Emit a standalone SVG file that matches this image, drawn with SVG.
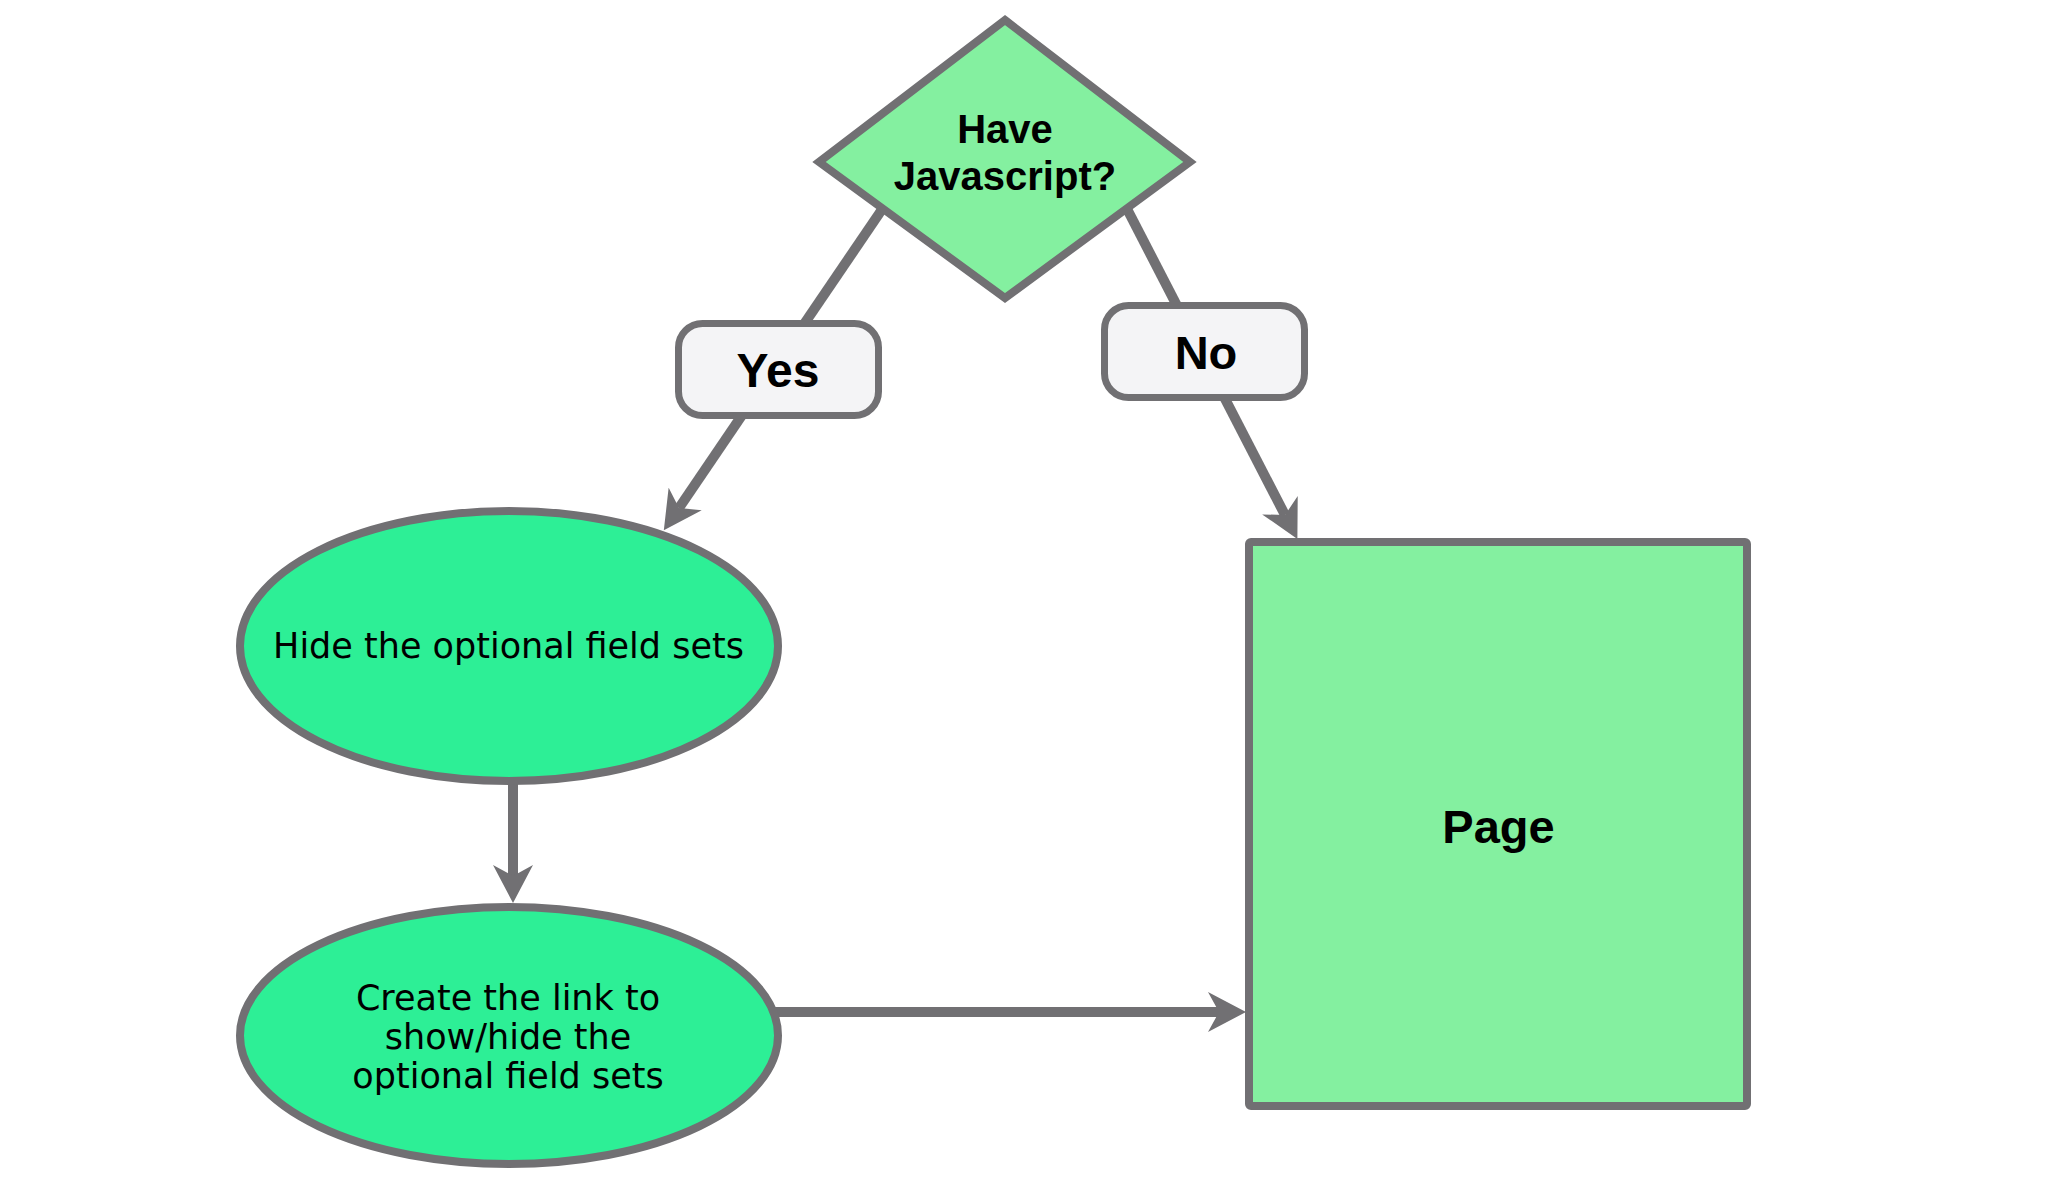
<svg xmlns="http://www.w3.org/2000/svg" width="2053" height="1191" viewBox="0 0 2053 1191">
  <style>
    .conn { stroke: #717073; stroke-width: 10; fill: none; marker-end: url(#arrow); }
    .shape { stroke: #717073; stroke-width: 8; }
    .pale { fill: #84f0a0; }
    .bright { fill: #2def96; }
    .label { fill: #f4f4f6; stroke: #717073; stroke-width: 7; }
    .bold { font-family: "Liberation Sans", Arial, sans-serif; font-weight: bold; fill: #000; text-anchor: middle; }
    .reg { font-family: "DejaVu Sans", Verdana, sans-serif; font-size: 35px; fill: #000; text-anchor: middle; }
  </style>
  <defs>
    <marker id="arrow" markerUnits="userSpaceOnUse" viewBox="0 0 40 42" markerWidth="40" markerHeight="42" refX="11" refY="21" orient="auto">
      <path d="M0,1 L38,21 L0,41 L11,21 Z" fill="#717073"/>
    </marker>
  </defs>
  <rect x="0" y="0" width="2053" height="1191" fill="#ffffff"/>

  <g id="connectors">
    <line class="conn" x1="885" y1="205" x2="679" y2="508"/>
    <line class="conn" x1="1125" y1="205" x2="1285" y2="515"/>
    <line class="conn" x1="513" y1="770" x2="513" y2="876"/>
    <line class="conn" x1="770" y1="1012" x2="1219" y2="1012"/>
  </g>

  <g id="decision">
    <polygon class="shape pale" points="1005,20 1190,162 1005,298 819,162"/>
    <text class="bold" font-size="40" x="1005" y="143">Have</text>
    <text class="bold" font-size="40" x="1005" y="190">Javascript?</text>
  </g>

  <g id="label-yes">
    <rect class="label" x="678.5" y="323.5" width="200" height="92" rx="24"/>
    <text class="bold" font-size="48" x="778" y="387">Yes</text>
  </g>

  <g id="label-no">
    <rect class="label" x="1104.5" y="305.5" width="200" height="92" rx="24"/>
    <text class="bold" font-size="47" x="1206" y="369">No</text>
  </g>

  <g id="hide">
    <ellipse class="shape bright" cx="509" cy="646" rx="269" ry="135"/>
    <text class="reg" x="508.5" y="658">Hide the optional field sets</text>
  </g>

  <g id="create">
    <ellipse class="shape bright" cx="509" cy="1035.5" rx="269" ry="128.5"/>
    <text class="reg" x="508" y="1010">Create the link to</text>
    <text class="reg" x="508" y="1049">show/hide the</text>
    <text class="reg" x="508" y="1088">optional field sets</text>
  </g>

  <g id="page">
    <rect class="shape pale" x="1249" y="542" width="498" height="564" rx="2"/>
    <text class="bold" font-size="47" x="1498.5" y="843">Page</text>
  </g>
</svg>
